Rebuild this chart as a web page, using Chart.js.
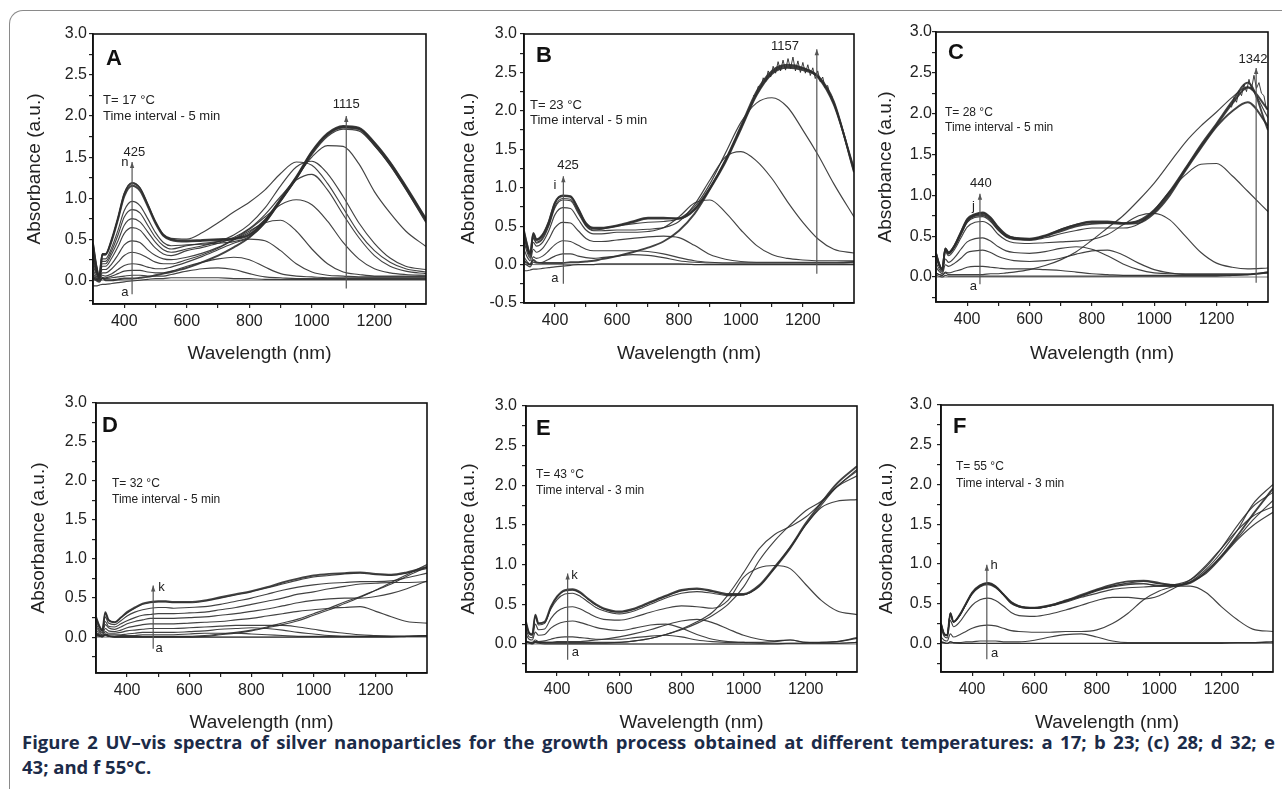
<!DOCTYPE html>
<html>
<head>
<meta charset="utf-8">
<script src="https://cdn.jsdelivr.net/npm/chart.js@4.4.0/dist/chart.umd.min.js"></script>
<style>
  body { margin: 0; background: #fff; width: 1282px; height: 802px; overflow: hidden; position: relative; }
  .frame { position: absolute; left: 9px; top: 10px; width: 1320px; height: 778px;
           border-left: 1.3px solid #8a8a8a; border-top: 1.3px solid #8a8a8a; border-top-left-radius: 14px; }
  canvas { position: absolute; }
  .cap { position: absolute; left: 22px; width: 1253px; font-family: "Open Sans", sans-serif;
         font-weight: bold; font-size: 18.5px; color: #1c2b48; line-height: 25px; white-space: nowrap; }
  #cap1 { top: 729px; text-align: justify; text-align-last: justify; }
  #cap2 { top: 754px; }
</style>
</head>
<body>
<div class="frame"></div>
<div class="cap" id="cap1">Figure 2 UV–vis spectra of silver nanoparticles for the growth process obtained at different temperatures: a 17; b 23; (c) 28; d 32; e</div>
<div class="cap" id="cap2">43; and f 55°C.</div>
<script>
// wavelength grid (nm) shared by every spectrum
const W = [300, 310, 320, 330, 340, 360, 380, 400, 425, 450, 475, 500, 525, 550, 600, 650, 700, 750, 800, 850, 900, 950, 1000, 1050, 1100, 1150, 1200, 1250, 1300, 1365];

// tick labels
const xTickLabels = [400, 600, 800, 1000, 1200];
const xMinorTicks = [500, 700, 900, 1100, 1300];
const yTickLabels = [-0.5, 0, 0.5, 1, 1.5, 2, 2.5, 3];
const yMinorTicks = [-0.25, 0.25, 0.75, 1.25, 1.75, 2.25, 2.75];

// A: T = 17 C
const A_a = [-0.07,-0.07,-0.06,-0.05,-0.05,-0.04,-0.03,-0.02,-0.01,0.00,0.01,0.02,0.02,0.03,0.03,0.03,0.03,0.02,0.02,0.01,0.01,0.01,0.01,0.01,0.01,0.01,0.01,0.01,0.01,0.01];
const A_b = [0.02,0.00,-0.02,0.03,0.00,0.00,0.01,0.02,0.02,0.03,0.04,0.06,0.08,0.10,0.15,0.22,0.30,0.40,0.52,0.70,0.97,1.24,1.55,1.77,1.86,1.84,1.65,1.41,1.12,0.72];
const A_c = [0.03,0.01,0.00,0.02,0.02,0.03,0.04,0.05,0.06,0.06,0.05,0.05,0.05,0.07,0.11,0.14,0.15,0.13,0.08,0.04,0.03,0.02,0.02,0.02,0.02,0.02,0.02,0.02,0.02,0.02];
const A_d = [0.05,0.02,0.00,0.03,0.03,0.05,0.08,0.11,0.12,0.12,0.10,0.09,0.09,0.11,0.17,0.22,0.26,0.28,0.25,0.16,0.08,0.05,0.04,0.03,0.03,0.03,0.03,0.03,0.03,0.03];
const A_e = [0.08,0.03,0.01,0.06,0.05,0.08,0.13,0.18,0.20,0.19,0.16,0.14,0.14,0.16,0.22,0.29,0.37,0.45,0.50,0.48,0.36,0.20,0.10,0.06,0.05,0.04,0.04,0.04,0.04,0.04];
const A_f = [0.13,0.05,0.02,0.09,0.09,0.14,0.22,0.30,0.34,0.32,0.27,0.22,0.20,0.20,0.25,0.31,0.39,0.49,0.60,0.70,0.73,0.60,0.38,0.20,0.10,0.07,0.05,0.05,0.05,0.05];
const A_g = [0.18,0.08,0.02,0.13,0.13,0.20,0.31,0.43,0.48,0.46,0.37,0.30,0.26,0.25,0.28,0.33,0.40,0.50,0.62,0.77,0.92,0.98,0.92,0.72,0.46,0.26,0.14,0.09,0.07,0.06];
const A_h = [0.24,0.10,0.03,0.17,0.17,0.27,0.41,0.57,0.64,0.61,0.50,0.39,0.32,0.30,0.36,0.40,0.45,0.52,0.63,0.80,1.02,1.22,1.29,1.10,0.80,0.52,0.30,0.17,0.11,0.08];
const A_i = [0.28,0.12,0.03,0.20,0.20,0.32,0.48,0.67,0.75,0.71,0.59,0.46,0.37,0.34,0.38,0.42,0.47,0.55,0.68,0.88,1.15,1.38,1.45,1.30,1.02,0.70,0.45,0.27,0.17,0.13];
const A_j = [0.33,0.14,0.04,0.23,0.23,0.36,0.55,0.77,0.86,0.82,0.67,0.52,0.42,0.38,0.42,0.45,0.47,0.50,0.58,0.74,0.98,1.25,1.50,1.64,1.63,1.42,1.08,0.82,0.60,0.41];
const A_k = [0.36,0.15,0.04,0.26,0.26,0.40,0.61,0.85,0.96,0.91,0.75,0.58,0.46,0.42,0.43,0.44,0.45,0.47,0.53,0.70,0.96,1.23,1.53,1.75,1.84,1.82,1.64,1.40,1.11,0.70];
const A_l = [0.44,0.18,0.05,0.31,0.31,0.48,0.74,1.02,1.15,1.09,0.90,0.69,0.54,0.49,0.47,0.48,0.49,0.50,0.55,0.72,0.98,1.25,1.56,1.78,1.87,1.85,1.67,1.43,1.14,0.74];
const A_m = [0.45,0.19,0.05,0.32,0.32,0.50,0.76,1.05,1.18,1.12,0.92,0.71,0.55,0.50,0.48,0.49,0.50,0.51,0.56,0.73,0.99,1.26,1.57,1.79,1.88,1.86,1.68,1.44,1.15,0.75];
const A_n = [0.45,0.19,0.05,0.32,0.32,0.50,0.76,1.06,1.19,1.13,0.93,0.71,0.56,0.51,0.50,0.58,0.70,0.83,0.95,1.10,1.30,1.44,1.40,1.18,0.88,0.58,0.36,0.22,0.14,0.10];

// B: T = 23 C
const B_a = [-0.08,-0.08,-0.07,-0.06,-0.06,-0.05,-0.04,-0.03,-0.02,-0.01,0.00,0.00,0.00,0.01,0.01,0.01,0.01,0.01,0.01,0.00,0.00,0.00,0.00,0.00,0.00,0.00,0.00,0.00,0.00,0.00];
const B_b = [0.02,-0.01,-0.03,0.03,0.02,0.03,0.07,0.11,0.14,0.14,0.11,0.09,0.08,0.09,0.11,0.13,0.12,0.09,0.05,0.03,0.02,0.02,0.02,0.02,0.02,0.02,0.02,0.02,0.02,0.02];
const B_c = [0.10,0.04,0.00,0.10,0.08,0.11,0.18,0.26,0.31,0.30,0.25,0.20,0.18,0.18,0.18,0.18,0.17,0.14,0.09,0.05,0.03,0.02,0.02,0.02,0.02,0.02,0.02,0.02,0.02,0.03];
const B_d = [0.20,0.10,0.05,0.20,0.16,0.21,0.33,0.48,0.55,0.54,0.44,0.34,0.30,0.30,0.32,0.34,0.36,0.37,0.35,0.25,0.13,0.07,0.04,0.03,0.03,0.03,0.03,0.03,0.03,0.04];
const B_e = [0.30,0.16,0.08,0.29,0.24,0.29,0.44,0.65,0.74,0.73,0.59,0.45,0.40,0.40,0.42,0.42,0.43,0.48,0.62,0.80,0.84,0.68,0.45,0.25,0.13,0.08,0.06,0.05,0.05,0.05];
const B_f = [0.36,0.20,0.10,0.34,0.28,0.33,0.50,0.74,0.84,0.83,0.67,0.50,0.44,0.44,0.45,0.45,0.46,0.48,0.56,0.78,1.10,1.40,1.47,1.35,1.12,0.82,0.55,0.33,0.20,0.15];
const B_g = [0.38,0.22,0.12,0.36,0.29,0.35,0.52,0.76,0.86,0.85,0.69,0.51,0.45,0.46,0.50,0.53,0.55,0.56,0.60,0.75,1.05,1.45,1.85,2.10,2.17,2.05,1.75,1.42,1.05,0.62];
const B_h = [0.42,0.25,0.14,0.40,0.32,0.38,0.55,0.80,0.89,0.88,0.72,0.53,0.47,0.47,0.50,0.55,0.60,0.60,0.60,0.72,1.00,1.35,1.78,2.22,2.50,2.58,2.55,2.45,2.12,1.20];
const B_i = [0.44,0.26,0.15,0.41,0.33,0.39,0.56,0.81,0.90,0.89,0.73,0.54,0.48,0.48,0.51,0.56,0.61,0.61,0.60,0.71,0.99,1.36,1.80,2.25,2.52,2.60,2.56,2.43,2.08,1.25];
const B_j = [0.05,0.02,0.00,0.06,0.03,0.02,0.02,0.02,0.02,0.03,0.03,0.04,0.05,0.07,0.11,0.16,0.22,0.30,0.44,0.66,0.98,1.33,1.76,2.20,2.48,2.56,2.53,2.44,2.10,1.22];
// fuzzy top of the last B spectra
const B_noiseW = [1040,1048,1056,1064,1072,1080,1088,1096,1104,1112,1120,1128,1136,1144,1152,1160,1168,1176,1184,1192,1200,1208,1216,1224,1232,1240,1248,1256,1264,1272,1280,1288,1296];
const B_noise = [2.20,2.19,2.32,2.30,2.43,2.38,2.52,2.44,2.58,2.49,2.64,2.52,2.66,2.53,2.68,2.55,2.70,2.52,2.65,2.50,2.63,2.49,2.60,2.46,2.56,2.42,2.52,2.38,2.44,2.30,2.33,2.19,2.18];

// C: T = 28 C
const C_a = [0.02,0.01,0.00,0.02,0.01,0.01,0.01,0.01,0.01,0.01,0.01,0.01,0.01,0.01,0.01,0.01,0.01,0.01,0.01,0.01,0.01,0.01,0.01,0.01,0.01,0.01,0.01,0.02,0.03,0.06];
const C_b = [0.05,0.03,0.02,0.06,0.05,0.07,0.09,0.12,0.13,0.13,0.12,0.11,0.10,0.10,0.10,0.09,0.08,0.06,0.04,0.03,0.02,0.02,0.02,0.02,0.02,0.02,0.02,0.02,0.03,0.05];
const C_c = [0.12,0.07,0.04,0.15,0.13,0.17,0.23,0.30,0.32,0.33,0.30,0.25,0.22,0.20,0.19,0.20,0.23,0.28,0.32,0.33,0.27,0.17,0.09,0.05,0.03,0.03,0.03,0.03,0.03,0.05];
const C_d = [0.18,0.10,0.06,0.22,0.18,0.24,0.34,0.43,0.47,0.48,0.44,0.37,0.32,0.30,0.29,0.31,0.35,0.37,0.34,0.26,0.16,0.09,0.05,0.04,0.04,0.04,0.04,0.04,0.04,0.06];
const C_e = [0.25,0.14,0.08,0.31,0.26,0.34,0.48,0.61,0.67,0.68,0.63,0.52,0.45,0.42,0.41,0.42,0.43,0.44,0.46,0.52,0.64,0.75,0.78,0.70,0.50,0.30,0.17,0.12,0.10,0.11];
const C_f = [0.27,0.15,0.09,0.33,0.28,0.37,0.52,0.67,0.73,0.74,0.68,0.57,0.49,0.46,0.45,0.48,0.53,0.57,0.60,0.60,0.60,0.65,0.82,1.05,1.25,1.38,1.39,1.24,1.05,0.80];
const C_g = [0.28,0.15,0.09,0.34,0.29,0.38,0.53,0.68,0.75,0.76,0.70,0.58,0.50,0.47,0.46,0.50,0.56,0.62,0.65,0.66,0.65,0.66,0.78,1.00,1.30,1.58,1.84,2.03,2.14,1.85];
const C_h = [0.29,0.16,0.09,0.35,0.30,0.39,0.55,0.70,0.76,0.78,0.72,0.60,0.51,0.48,0.46,0.50,0.58,0.64,0.68,0.68,0.66,0.68,0.80,1.03,1.32,1.60,1.86,2.12,2.32,2.05];
const C_i = [0.29,0.16,0.09,0.35,0.30,0.39,0.55,0.71,0.77,0.79,0.73,0.61,0.52,0.48,0.47,0.51,0.58,0.64,0.67,0.67,0.66,0.69,0.82,1.05,1.33,1.62,1.88,2.15,2.38,1.80];
const C_j = [0.05,0.03,0.02,0.05,0.03,0.03,0.03,0.03,0.03,0.03,0.04,0.04,0.05,0.06,0.09,0.14,0.21,0.31,0.45,0.60,0.75,0.94,1.15,1.40,1.65,1.85,2.02,2.20,2.33,1.95];
// fuzzy top of the last C spectra
const C_noiseW = [1240,1248,1256,1264,1272,1280,1288,1296,1304,1312,1320,1328,1336,1344,1352,1360];
const C_noise = [2.10,2.08,2.20,2.14,2.28,2.22,2.36,2.27,2.42,2.30,2.47,2.31,2.38,2.25,2.22,2.05];

// D: T = 32 C
const D_a = [0.03,0.02,0.00,0.03,0.01,0.00,0.00,0.00,0.00,0.00,0.00,0.00,0.00,0.00,0.00,0.00,0.00,0.00,0.00,0.00,0.00,0.00,0.00,0.00,0.00,0.00,0.00,0.00,0.01,0.02];
const D_b = [0.02,0.01,0.01,0.02,0.01,0.01,0.02,0.02,0.02,0.03,0.03,0.03,0.03,0.03,0.04,0.05,0.05,0.05,0.04,0.03,0.02,0.01,0.01,0.01,0.01,0.01,0.01,0.01,0.01,0.02];
const D_c = [0.03,0.02,0.01,0.04,0.03,0.03,0.03,0.04,0.05,0.06,0.06,0.06,0.06,0.06,0.07,0.08,0.10,0.11,0.12,0.11,0.09,0.06,0.04,0.02,0.01,0.01,0.01,0.01,0.01,0.01];
const D_d = [0.06,0.04,0.02,0.07,0.05,0.05,0.06,0.08,0.09,0.10,0.11,0.11,0.11,0.11,0.12,0.13,0.14,0.15,0.15,0.15,0.15,0.13,0.10,0.07,0.05,0.03,0.02,0.01,0.01,0.02];
const D_e = [0.09,0.06,0.03,0.11,0.08,0.07,0.09,0.12,0.14,0.16,0.17,0.17,0.17,0.17,0.18,0.19,0.20,0.22,0.24,0.27,0.30,0.33,0.35,0.37,0.38,0.39,0.33,0.26,0.20,0.18];
const D_f = [0.13,0.08,0.05,0.16,0.12,0.10,0.13,0.17,0.20,0.22,0.24,0.24,0.24,0.24,0.25,0.26,0.28,0.30,0.33,0.36,0.40,0.44,0.47,0.49,0.50,0.50,0.52,0.56,0.62,0.72];
const D_g = [0.17,0.10,0.06,0.20,0.14,0.13,0.17,0.21,0.25,0.28,0.29,0.30,0.30,0.30,0.31,0.32,0.35,0.38,0.42,0.46,0.50,0.55,0.58,0.62,0.65,0.68,0.69,0.70,0.70,0.71];
const D_h = [0.21,0.13,0.08,0.26,0.18,0.16,0.21,0.27,0.32,0.35,0.37,0.38,0.38,0.37,0.38,0.39,0.42,0.46,0.50,0.55,0.60,0.64,0.67,0.69,0.70,0.71,0.71,0.72,0.76,0.82];
const D_j = [0.25,0.15,0.09,0.31,0.22,0.19,0.25,0.31,0.37,0.42,0.44,0.45,0.45,0.44,0.44,0.46,0.50,0.54,0.58,0.63,0.68,0.73,0.77,0.79,0.81,0.82,0.80,0.79,0.82,0.88];
const D_k = [0.26,0.15,0.09,0.32,0.22,0.19,0.25,0.32,0.38,0.43,0.45,0.46,0.46,0.45,0.45,0.47,0.51,0.55,0.59,0.64,0.70,0.75,0.79,0.81,0.82,0.83,0.81,0.80,0.83,0.90];
const D_r1 = [0.05,0.03,0.01,0.04,0.02,0.01,0.01,0.01,0.01,0.01,0.01,0.01,0.01,0.01,0.01,0.02,0.04,0.06,0.09,0.13,0.18,0.23,0.30,0.37,0.45,0.52,0.60,0.68,0.78,0.90];
const D_r2 = [0.04,0.02,0.01,0.03,0.01,0.00,0.00,0.00,0.00,0.00,0.00,0.00,0.00,0.00,0.00,0.01,0.03,0.05,0.08,0.12,0.16,0.21,0.28,0.35,0.43,0.51,0.60,0.70,0.80,0.93];

// E: T = 43 C
const E_a = [0.02,0.01,0.00,0.02,0.01,0.00,0.00,0.00,0.00,0.00,0.00,0.00,0.00,0.00,0.00,0.00,0.00,0.00,0.00,0.00,0.00,0.00,0.00,0.00,0.00,0.01,0.01,0.02,0.03,0.07];
const E_b = [0.04,0.02,0.02,0.05,0.03,0.04,0.06,0.08,0.09,0.09,0.08,0.07,0.06,0.06,0.06,0.08,0.10,0.11,0.09,0.05,0.03,0.02,0.02,0.02,0.03,0.05,0.02,0.02,0.03,0.08];
const E_c = [0.12,0.06,0.05,0.15,0.11,0.12,0.20,0.25,0.28,0.29,0.27,0.24,0.21,0.19,0.17,0.20,0.24,0.25,0.20,0.12,0.06,0.03,0.02,0.01,0.01,0.01,0.01,0.01,0.01,0.02];
const E_d = [0.03,0.02,0.01,0.03,0.02,0.02,0.02,0.03,0.03,0.03,0.03,0.04,0.05,0.06,0.09,0.13,0.18,0.24,0.29,0.31,0.27,0.19,0.11,0.06,0.04,0.05,0.02,0.01,0.01,0.02];
const E_e = [0.19,0.09,0.08,0.25,0.18,0.19,0.32,0.41,0.46,0.47,0.44,0.39,0.34,0.31,0.30,0.34,0.40,0.45,0.48,0.47,0.45,0.55,0.84,0.96,0.99,0.95,0.75,0.55,0.42,0.37];
const E_f = [0.26,0.13,0.11,0.34,0.24,0.26,0.44,0.56,0.63,0.64,0.60,0.53,0.46,0.42,0.38,0.42,0.50,0.58,0.64,0.66,0.64,0.61,0.62,0.72,0.95,1.20,1.50,1.75,1.98,2.18];
const E_g = [0.28,0.14,0.12,0.37,0.26,0.28,0.47,0.60,0.68,0.69,0.65,0.57,0.50,0.45,0.41,0.45,0.53,0.61,0.68,0.70,0.67,0.63,0.63,0.74,0.97,1.22,1.52,1.78,2.02,2.24];
const E_h = [0.27,0.14,0.12,0.36,0.26,0.27,0.46,0.59,0.67,0.68,0.64,0.56,0.49,0.44,0.40,0.44,0.52,0.60,0.67,0.69,0.66,0.62,0.62,0.73,0.96,1.22,1.50,1.72,1.80,1.82];
const E_i = [0.03,0.02,0.01,0.03,0.02,0.02,0.02,0.02,0.02,0.02,0.02,0.02,0.02,0.02,0.02,0.04,0.07,0.12,0.19,0.28,0.40,0.62,0.90,1.20,1.38,1.48,1.60,1.78,1.98,2.20];
const E_j = [0.03,0.02,0.01,0.03,0.02,0.01,0.01,0.01,0.01,0.01,0.01,0.01,0.01,0.01,0.02,0.04,0.07,0.12,0.18,0.26,0.36,0.50,0.72,1.05,1.30,1.50,1.68,1.80,1.98,2.12];

// F: T = 55 C
const F_a = [0.02,0.01,0.00,0.02,0.01,0.00,0.00,0.00,0.00,0.00,0.00,0.00,0.00,0.00,0.00,0.00,0.00,0.00,0.00,0.00,0.00,0.00,0.00,0.00,0.00,0.00,0.00,0.01,0.01,0.02];
const F_b = [0.02,0.01,0.00,0.02,0.01,0.01,0.02,0.02,0.03,0.03,0.03,0.02,0.02,0.02,0.04,0.08,0.11,0.12,0.08,0.03,0.01,0.01,0.01,0.01,0.01,0.01,0.01,0.01,0.01,0.02];
const F_c = [0.08,0.04,0.03,0.12,0.08,0.11,0.15,0.19,0.22,0.23,0.22,0.19,0.16,0.15,0.14,0.14,0.15,0.15,0.17,0.25,0.38,0.55,0.66,0.72,0.77,0.88,1.08,1.30,1.48,1.65];
const F_d = [0.19,0.09,0.07,0.29,0.21,0.27,0.38,0.48,0.55,0.57,0.54,0.47,0.39,0.35,0.34,0.37,0.42,0.48,0.54,0.58,0.58,0.56,0.60,0.70,0.80,0.98,1.20,1.42,1.60,1.72];
const F_e = [0.24,0.12,0.10,0.37,0.27,0.35,0.49,0.62,0.71,0.74,0.70,0.61,0.50,0.46,0.44,0.47,0.52,0.58,0.63,0.68,0.70,0.71,0.72,0.72,0.72,0.64,0.46,0.30,0.18,0.15];
const F_f = [0.25,0.12,0.10,0.38,0.27,0.35,0.50,0.63,0.72,0.75,0.71,0.62,0.51,0.47,0.45,0.48,0.54,0.60,0.67,0.72,0.76,0.78,0.75,0.74,0.78,0.93,1.15,1.42,1.75,2.00];
const F_g = [0.25,0.12,0.10,0.38,0.27,0.36,0.50,0.64,0.73,0.76,0.72,0.62,0.52,0.47,0.44,0.47,0.53,0.59,0.66,0.71,0.74,0.75,0.73,0.74,0.80,0.96,1.20,1.48,1.72,1.90];
const F_h = [0.25,0.12,0.10,0.38,0.27,0.36,0.50,0.64,0.73,0.76,0.72,0.62,0.52,0.47,0.45,0.48,0.54,0.61,0.68,0.74,0.78,0.79,0.76,0.73,0.76,0.90,1.10,1.35,1.62,1.95];
const F_i = [0.24,0.12,0.10,0.37,0.27,0.35,0.49,0.63,0.72,0.75,0.71,0.61,0.51,0.46,0.44,0.47,0.53,0.60,0.67,0.72,0.75,0.75,0.72,0.72,0.77,0.90,1.10,1.32,1.55,1.80];

const FONT = '"Liberation Sans", Arial, sans-serif';

// box / area = [left, top, right, bottom] in page pixels
const panels = [
  { box: [0, 0, 432, 368], area: [93, 34, 426, 304], yMin: -0.29, tickPad: 2, yTitleX: 35,
    series: [A_a, A_b, A_c, A_d, A_e, A_f, A_g, A_h, A_i, A_j, A_k, A_l, A_m, A_n], heavy: [A_b, A_l, A_m], extra: [],
    notes: { letter: 'A', letterAt: [13, 31], temp: 'T= 17 °C', interval: 'Time interval - 5 min', noteAt: [10, 66, 82], noteSize: 13,
      arrows: [{ x: 425, from: -0.17, to: 1.44 }, { x: 1110, from: -0.1, to: 2.0 }],
      labels: [{ t: '425', x: 432, y: 1.56 }, { t: 'n', x: 402, y: 1.43 }, { t: 'a', x: 402, y: -0.15 }, { t: '1115', x: 1110, y: 2.14 }] } },
  { box: [432, 0, 862, 368], area: [524, 34, 854, 303], yMin: -0.5, tickPad: 3, yTitleX: 37,
    series: [B_a, B_b, B_c, B_d, B_e, B_f, B_g, B_h, B_i, B_j], heavy: [B_h, B_i, B_j], extra: [[B_noiseW, B_noise]],
    notes: { letter: 'B', letterAt: [12, 28], temp: 'T= 23 °C', interval: 'Time interval - 5 min', noteAt: [6, 71, 86], noteSize: 13,
      arrows: [{ x: 427, from: -0.25, to: 1.15 }, { x: 1245, from: -0.12, to: 2.8 }],
      labels: [{ t: '425', x: 442, y: 1.29 }, { t: 'i', x: 400, y: 1.03 }, { t: 'a', x: 400, y: -0.18 }, { t: '1157', x: 1142, y: 2.84 }] } },
  { box: [862, 0, 1282, 368], area: [936, 32, 1268, 302], yMin: -0.306, tickPad: 0, yTitleX: 24,
    series: [C_a, C_b, C_c, C_d, C_e, C_f, C_g, C_h, C_i, C_j], heavy: [C_g, C_h, C_i], extra: [[C_noiseW, C_noise]],
    notes: { letter: 'C', letterAt: [12, 27], temp: 'T= 28 °C', interval: 'Time interval - 5 min', noteAt: [9, 81, 96], noteSize: 12,
      arrows: [{ x: 441, from: -0.09, to: 1.02 }, { x: 1327, from: -0.07, to: 2.56 }],
      labels: [{ t: '440', x: 444, y: 1.14 }, { t: 'j', x: 420, y: 0.87 }, { t: 'a', x: 420, y: -0.11 }, { t: '1342', x: 1317, y: 2.67 }] } },
  { box: [0, 369, 432, 737], area: [96, 403, 427, 673], yMin: -0.46, tickPad: 5, yTitleX: 39,
    series: [D_a, D_b, D_c, D_d, D_e, D_f, D_g, D_h, D_j, D_k, D_r1, D_r2], heavy: [D_k], extra: [],
    notes: { letter: 'D', letterAt: [6, 29], temp: 'T= 32 °C', interval: 'Time interval - 5 min', noteAt: [16, 81, 97], noteSize: 12,
      arrows: [{ x: 484, from: -0.15, to: 0.66 }],
      labels: [{ t: 'k', x: 511, y: 0.64 }, { t: 'a', x: 503, y: -0.14 }] } },
  { box: [432, 369, 862, 737], area: [526, 406, 857, 672], yMin: -0.353, tickPad: 5, yTitleX: 37,
    series: [E_a, E_b, E_c, E_d, E_e, E_f, E_g, E_h, E_i, E_j], heavy: [E_g], extra: [],
    notes: { letter: 'E', letterAt: [10, 29], temp: 'T= 43 °C', interval: 'Time interval - 3 min', noteAt: [10, 69, 85], noteSize: 12,
      arrows: [{ x: 434, from: -0.2, to: 0.89 }],
      labels: [{ t: 'k', x: 456, y: 0.87 }, { t: 'a', x: 459, y: -0.11 }] } },
  { box: [862, 369, 1282, 737], area: [941, 405, 1273, 672], yMin: -0.36, tickPad: 5, yTitleX: 25,
    series: [F_a, F_b, F_c, F_d, F_e, F_f, F_g, F_h, F_i], heavy: [F_h], extra: [],
    notes: { letter: 'F', letterAt: [12, 28], temp: 'T= 55 °C', interval: 'Time interval - 3 min', noteAt: [15, 62, 79], noteSize: 12,
      arrows: [{ x: 447, from: -0.2, to: 0.99 }],
      labels: [{ t: 'h', x: 470, y: 0.98 }, { t: 'a', x: 472, y: -0.13 }] } }
];

// frame, zero line, panel letter, notes and arrows
const panelDecor = {
  id: 'panelDecor',
  beforeDatasetsDraw(chart) {
    const { ctx, chartArea: ca, scales: { y } } = chart;
    const y0 = y.getPixelForValue(0);
    ctx.save();
    ctx.strokeStyle = '#777';
    ctx.lineWidth = 1;
    ctx.beginPath(); ctx.moveTo(ca.left, y0); ctx.lineTo(ca.right, y0); ctx.stroke();
    ctx.restore();
  },
  afterDatasetsDraw(chart, args, o) {
    const { ctx, chartArea: ca, scales: { x, y } } = chart;
    ctx.save();
    ctx.strokeStyle = '#111';
    ctx.lineWidth = 1.6;
    ctx.strokeRect(ca.left, ca.top, ca.right - ca.left, ca.bottom - ca.top);

    ctx.fillStyle = '#111';
    ctx.textAlign = 'left';
    ctx.textBaseline = 'alphabetic';
    ctx.font = 'bold 22px ' + FONT;
    ctx.fillText(o.letter, ca.left + o.letterAt[0], ca.top + o.letterAt[1]);

    ctx.fillStyle = '#222';
    ctx.textBaseline = 'middle';
    ctx.font = o.noteSize + 'px ' + FONT;
    ctx.fillText(o.temp, ca.left + o.noteAt[0], ca.top + o.noteAt[1]);
    ctx.fillText(o.interval, ca.left + o.noteAt[0], ca.top + o.noteAt[2]);

    ctx.strokeStyle = '#555';
    ctx.fillStyle = '#555';
    ctx.lineWidth = 1.2;
    o.arrows.forEach(a => {
      const px = x.getPixelForValue(a.x);
      const p0 = y.getPixelForValue(a.from);
      const p1 = y.getPixelForValue(a.to);
      ctx.beginPath(); ctx.moveTo(px, p0); ctx.lineTo(px, p1); ctx.stroke();
      ctx.beginPath(); ctx.moveTo(px - 2.2, p1 + 6); ctx.lineTo(px, p1); ctx.lineTo(px + 2.2, p1 + 6); ctx.closePath(); ctx.fill();
    });

    ctx.fillStyle = '#222';
    ctx.textAlign = 'center';
    ctx.font = '13px ' + FONT;
    o.labels.forEach(l => ctx.fillText(l.t, x.getPixelForValue(l.x), y.getPixelForValue(l.y)));
    ctx.restore();
  }
};

panels.forEach(p => {
  const [bl, bt, br, bb] = p.box;
  const [al, at, ar, ab] = p.area;
  const cv = document.createElement('canvas');
  cv.width = br - bl;
  cv.height = bb - bt;
  cv.style.left = bl + 'px';
  cv.style.top = bt + 'px';
  cv.style.width = (br - bl) + 'px';
  cv.style.height = (bb - bt) + 'px';
  document.body.appendChild(cv);

  const datasets = p.series.map(s => ({
    data: W.map((w, i) => ({ x: w, y: s[i] })),
    borderColor: 'rgba(45,45,45,0.9)',
    borderWidth: p.heavy.includes(s) ? 1.9 : 1.15,
    pointRadius: 0,
    fill: false,
    cubicInterpolationMode: 'monotone'
  }));
  p.extra.forEach(([ws, vs]) => datasets.push({
    data: ws.map((w, i) => ({ x: w, y: vs[i] })),
    borderColor: 'rgba(30,30,30,0.85)',
    borderWidth: 1,
    pointRadius: 0,
    fill: false,
    tension: 0
  }));

  const yTicks = yTickLabels.concat(yMinorTicks).filter(v => v >= p.yMin - 1e-9).sort((a, b) => a - b);

  new Chart(cv, {
    type: 'line',
    data: { datasets },
    plugins: [panelDecor],
    options: {
      responsive: false,
      animation: false,
      layout: { padding: { top: at - bt, right: br - ar, left: 0, bottom: 0 } },
      plugins: { legend: { display: false }, tooltip: { enabled: false }, panelDecor: p.notes },
      scales: {
        x: {
          type: 'linear', min: 300, max: 1365,
          afterFit: s => { s.height = bb - ab; },
          afterBuildTicks: s => { s.ticks = xTickLabels.concat(xMinorTicks).sort((a, b) => a - b).map(v => ({ value: v })); },
          ticks: { autoSkip: false, maxRotation: 0, padding: 4, color: '#222', font: { family: FONT, size: 16 },
                   callback: v => xTickLabels.includes(v) ? String(v) : '' },
          grid: { drawOnChartArea: false, drawTicks: true, tickLength: 4, color: '#222', lineWidth: 1.2 },
          border: { display: true, color: '#111', width: 1.6 },
          title: { display: true, text: 'Wavelength (nm)', color: '#222', font: { family: FONT, size: 19 }, padding: { top: 0, bottom: 3 } }
        },
        y: {
          type: 'linear', min: p.yMin, max: 3.0,
          afterFit: s => { s.width = al - bl; },
          afterBuildTicks: s => { s.ticks = yTicks.map(v => ({ value: v })); },
          ticks: { autoSkip: false, padding: p.tickPad, color: '#222', font: { family: FONT, size: 16 },
                   callback: v => yTickLabels.some(t => Math.abs(t - v) < 1e-9) ? v.toFixed(1) : '' },
          grid: { drawOnChartArea: false, drawTicks: true, tickLength: 4, color: '#222', lineWidth: 1.2 },
          border: { display: true, color: '#111', width: 1.6 },
          title: { display: true, text: 'Absorbance (a.u.)', color: '#222', font: { family: FONT, size: 19 },
                   padding: { top: p.yTitleX - 11.4, bottom: 0 } }
        }
      }
    }
  });
});
</script>
</body>
</html>
